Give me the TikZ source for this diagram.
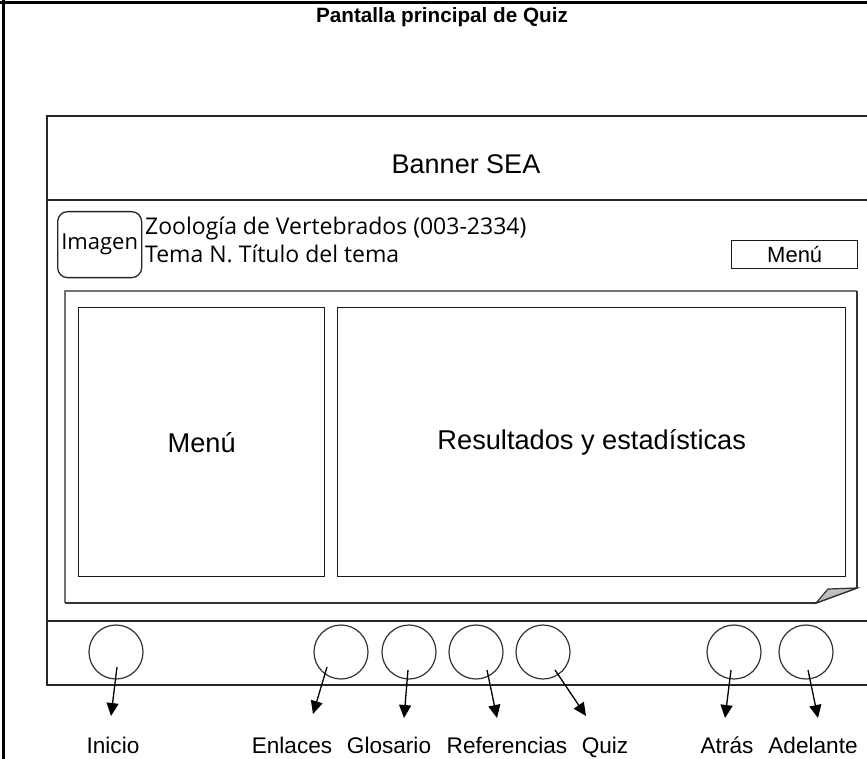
\documentclass[tikz,border=0pt]{standalone}
\usepackage{fontspec}
\setmainfont{Liberation Sans}
\newfontfamily\tahoma{Open Sans}
\usetikzlibrary{arrows.meta}
\begin{document}
\begin{tikzpicture}[x=1pt,y=-1pt,
  frame/.style={line width=3pt},
  win/.style={draw=black!85, line width=1.6pt},
  box/.style={draw=black!90, line width=1.4pt, inner sep=0pt, anchor=north west, font=\fontsize{27.2}{30}\selectfont},
  btn/.style={circle, draw=black!80, line width=1.2pt, minimum size=54pt, inner sep=0pt},
  lbl/.style={font=\fontsize{22.6}{24}\selectfont, inner sep=0pt, anchor=base},
  tah/.style={font=\tahoma\fontsize{23}{26}\selectfont, inner sep=0pt},
  arr/.style={-{Triangle[length=13pt,width=12pt]}, line width=1.3pt}
]
\useasboundingbox (0,0) rectangle (867,759);
% outer frame
\draw[frame] (0,2.5) -- (867,2.5);
\draw[frame] (3.8,0) -- (3.8,759);
\node[font=\bfseries\fontsize{20.7}{24}\selectfont] (title) at (442,17) {Pantalla principal de Quiz};
% window
\draw[win] (867,116) -- (47,116) -- (47,685) -- (867,685);
\draw[win] (47,200) -- (867,200);
\draw[win] (47,621) -- (867,621);
\node[font=\fontsize{27}{30}\selectfont] (banner) at (466,164) {Banner SEA};
% header row
\node[draw=black!85, line width=1.3pt, rounded corners=10pt, minimum width=84pt, minimum height=66pt, anchor=north west, tah, font=\tahoma\fontsize{22}{24}\selectfont] (img) at (57,211) {Imagen};
\node[tah, anchor=base west] (course) at (145,235) {Zoología de Vertebrados (003-2334)};
\node[tah, anchor=base west] (topic) at (145,262) {Tema N. Título del tema};
\node[box, minimum width=126pt, minimum height=28pt, font=\fontsize{22}{24}\selectfont] (menubtn) at (731,240) {Menú};
% content panel with folded corner
\draw[draw=black!55, line width=2pt] (65,603) -- (65,291) -- (857,291);
\draw[draw=black!80, line width=1.6pt] (857,291) -- (857,588) -- (816,603) -- (65,603);
\draw[draw=black!80, line width=1.2pt, fill=black!25] (816,603) -- (828,589) -- (857,588) -- cycle;
\node[box, minimum width=246pt, minimum height=269pt] (menu) at (78,307) {Menú};
\node[box, minimum width=508pt, minimum height=269pt] (results) at (337,307) {Resultados y estadísticas};
% footer buttons
\node[btn] (b1) at (116,652) {};
\node[btn] (b2) at (341,652) {};
\node[btn] (b3) at (409,652) {};
\node[btn] (b4) at (476,652) {};
\node[btn] (b5) at (543,652) {};
\node[btn] (b6) at (734,652) {};
\node[btn] (b7) at (806,652) {};
% labels
\node[lbl] (l1) at (113,753) {Inicio};
\node[lbl] (l2) at (292,753) {Enlaces};
\node[lbl] (l3) at (389,753) {Glosario};
\node[lbl] (l4) at (507,753) {Referencias};
\node[lbl] (l5) at (605,753) {Quiz};
\node[lbl] (l6) at (727,753) {Atrás};
\node[lbl] (l7) at (813,753) {Adelante};
% arrow start and end points
\coordinate (s1) at (117,667); \coordinate (e1) at (111,716);
\coordinate (s2) at (327,667); \coordinate (e2) at (313,714);
\coordinate (s3) at (408,670); \coordinate (e3) at (404,718);
\coordinate (s4) at (487,670); \coordinate (e4) at (497,718);
\coordinate (s5) at (555,670); \coordinate (e5) at (586,716);
\coordinate (s6) at (731,670); \coordinate (e6) at (725,718);
\coordinate (s7) at (808,670); \coordinate (e7) at (818,718);
\foreach \i in {1,...,7} {\draw[arr] (s\i) -- (e\i);}
\end{tikzpicture}
\end{document}
